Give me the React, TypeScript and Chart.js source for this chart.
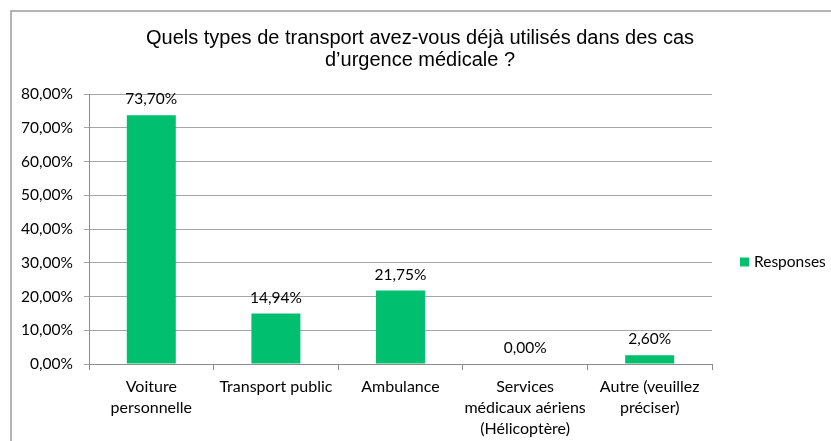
import React, { useEffect, useRef } from "react";
import { Chart, registerables } from "chart.js";

Chart.register(...registerables);

const titleLines = [
  "Quels types de transport avez-vous déjà utilisés dans des cas",
  "d\u2019urgence médicale ?",
];
const categories: string[][] = [
  ["Voiture", "personnelle"],
  ["Transport public"],
  ["Ambulance"],
  ["Services", "médicaux aériens", "(Hélicoptère)"],
  ["Autre (veuillez", "préciser)"],
];
const responses = [73.7, 14.94, 21.75, 0.0, 2.6];
const seriesName = "Responses";
const yMax = 80;
const yStep = 10;

const GREEN = "rgb(0,191,111)";
const LABEL_FONT = "Lato, 'Open Sans', sans-serif";

const fmt = (v: number) => v.toFixed(2).replace(".", ",") + "%";

const decorPlugin = {
  id: "decor",
  beforeDraw(chart: any) {
    const { ctx } = chart;
    ctx.save();
    ctx.strokeStyle = "#9a9a9a";
    ctx.lineWidth = 1.5;
    ctx.beginPath();
    ctx.moveTo(11, chart.height + 2);
    ctx.lineTo(11, 11);
    ctx.lineTo(chart.width + 2, 11);
    ctx.stroke();
    // title
    ctx.fillStyle = "#000";
    ctx.font = "20px 'Liberation Sans', Arial, sans-serif";
    ctx.textAlign = "center";
    ctx.textBaseline = "middle";
    titleLines.forEach((line, i) => ctx.fillText(line, 420, 38 + i * 22));
    ctx.restore();
  },
  afterDatasetsDraw(chart: any) {
    const { ctx } = chart;
    const meta = chart.getDatasetMeta(0);
    const ds = chart.data.datasets[0];
    ctx.save();
    ctx.fillStyle = "#000";
    ctx.font = `15.5px ${LABEL_FONT}`;
    ctx.textAlign = "center";
    ctx.textBaseline = "middle";
    meta.data.forEach((bar: any, i: number) => {
      ctx.fillText(fmt(ds.data[i]), bar.x, bar.y - 16);
    });
    // legend
    const area = chart.chartArea;
    const cy = (area.top + area.bottom) / 2 + 33;
    ctx.fillStyle = GREEN;
    ctx.fillRect(740, cy - 4.5, 9, 9);
    ctx.fillStyle = "#000";
    ctx.textAlign = "left";
    ctx.fillText(ds.label, 754, cy);
    ctx.restore();
  },
};

export default function App() {
  const ref = useRef<HTMLCanvasElement>(null);
  useEffect(() => {
    if (!ref.current) return;
    const chart = new Chart(ref.current, {
      type: "bar",
      data: {
        labels: categories,
        datasets: [
          {
            label: seriesName,
            data: responses,
            backgroundColor: GREEN,
            borderWidth: 0,
            categoryPercentage: 1,
            barPercentage: 0.393,
          },
        ],
      },
      options: {
        animation: false,
        responsive: false,
        layout: { padding: { left: 11, right: 119, top: 94, bottom: 0 } },
        plugins: {
          legend: { display: false },
          tooltip: { enabled: false },
          title: { display: false },
        },
        scales: {
          x: {
            grid: {
              display: true,
              drawOnChartArea: false,
              drawTicks: true,
              tickLength: 6,
              color: "#8c8c8c",
              offset: true,
            },
            border: { display: true, color: "#8c8c8c", width: 1 },
            ticks: {
              color: "#000",
              padding: 6,
              maxRotation: 0,
              autoSkip: false,
              font: { family: LABEL_FONT, size: 16, lineHeight: 21 / 16 },
            },
            afterFit(scale: any) {
              scale.height = 77;
            },
          },
          y: {
            min: 0,
            max: yMax,
            ticks: {
              stepSize: yStep,
              color: "#000",
              padding: 11,
              font: { family: LABEL_FONT, size: 15.5 },
              callback: (v: any) => fmt(Number(v)),
            },
            grid: {
              color: "#a6a6a6",
              tickLength: 5,
              drawTicks: true,
            },
            border: { display: true, color: "#8c8c8c", width: 1 },
            afterFit(scale: any) {
              scale.width = 78;
            },
          },
        },
      },
      plugins: [decorPlugin],
    });
    return () => chart.destroy();
  }, []);
  return (
    <div style={{ position: "absolute", left: 0, top: 0, width: 831, height: 441, background: "#fff" }}>
      <canvas ref={ref} width={831} height={441} style={{ display: "block" }} />
    </div>
  );
}
